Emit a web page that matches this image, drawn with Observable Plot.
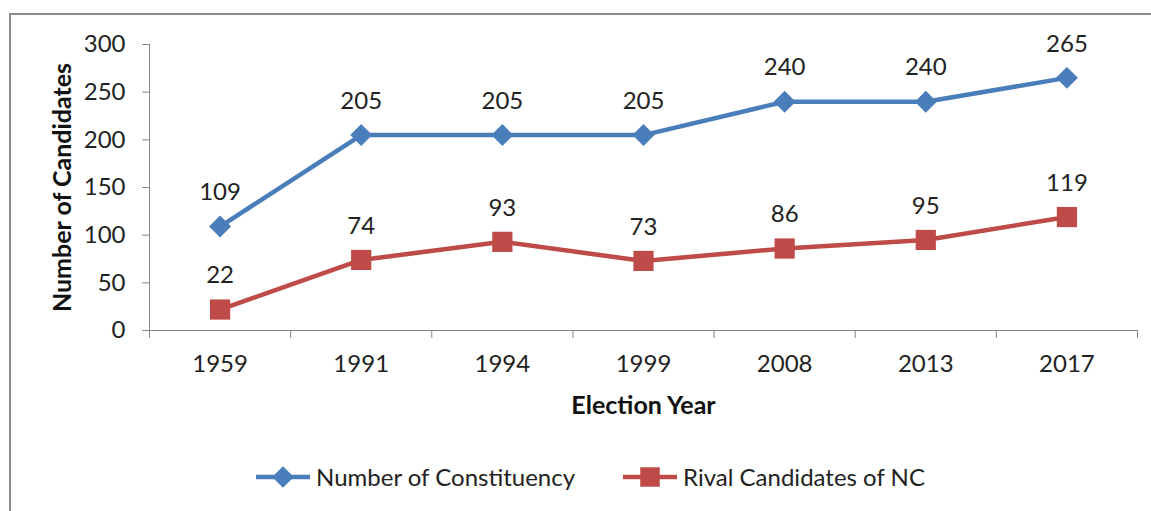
<!DOCTYPE html>
<html>
<head>
<meta charset="utf-8">
<script src="https://cdn.jsdelivr.net/npm/d3@7"></script>
<script src="https://cdn.jsdelivr.net/npm/@observablehq/plot@0.6"></script>
<style>
  html, body { margin: 0; padding: 0; background: #fff; }
  #wrap { position: relative; width: 1151px; height: 511px; overflow: hidden; font-family: Lato, "Open Sans", sans-serif; }
  #frame { position: absolute; left: 9px; top: 13px; width: 1200px; height: 600px; border: 2px solid #8c8c8c; box-sizing: border-box; }
  #chart { position: absolute; left: 0; top: 0; }
  #legend { position: absolute; left: 0; top: 462px; width: 1151px; display: flex; justify-content: center; gap: 48px; font-size: 24px; color: #222; padding-left: 30px; box-sizing: border-box; }
  .item { display: flex; align-items: center; gap: 6px; }
</style>
</head>
<body>
<div id="wrap">
  <div id="frame"></div>
  <div id="chart"></div>
  <div id="legend"></div>
</div>
<script>
const years = ["1959", "1991", "1994", "1999", "2008", "2013", "2017"];
const constituency = [109, 205, 205, 205, 240, 240, 265];
const rival = [22, 74, 93, 73, 86, 95, 119];
const yTicks = [0, 50, 100, 150, 200, 250, 300];
const seriesNames = ["Number of Constituency", "Rival Candidates of NC"];
const colors = ["#4a7ebb", "#be4b48"];

const blue = years.map((yr, i) => ({i: i + 0.5, v: constituency[i]}));
const red = years.map((yr, i) => ({i: i + 0.5, v: rival[i]}));

const axisColor = "#868686";

const chart = Plot.plot({
  width: 1151,
  height: 440,
  marginLeft: 149,
  marginRight: 14,
  marginTop: 44,
  marginBottom: 110,
  style: {fontFamily: "Lato, 'Open Sans', sans-serif", fontSize: "24px", color: "#222", background: "transparent", overflow: "visible"},
  x: {type: "linear", domain: [0, years.length]},
  y: {domain: [0, 300]},
  marks: [
    Plot.ruleY([0], {stroke: axisColor, strokeWidth: 1}),
    Plot.ruleX([0], {stroke: axisColor, strokeWidth: 1}),
    Plot.axisY({ticks: yTicks, tickSize: 7, tickPadding: 17, label: null, stroke: axisColor}),
    Plot.axisX({ticks: d3.range(0, years.length + 1), tickSize: 8, tickFormat: () => "", label: null, stroke: axisColor}),
    Plot.axisX({ticks: d3.range(years.length).map(i => i + 0.5), tickSize: 0, tickPadding: 24, tickFormat: d => years[Math.round(d - 0.5)], label: null}),
    Plot.line(blue, {x: "i", y: "v", stroke: colors[0], strokeWidth: 4.5}),
    Plot.dot(blue, {x: "i", y: "v", symbol: "diamond2", r: 9.9, fill: colors[0], stroke: "none"}),
    Plot.text(blue, {x: "i", y: "v", text: "v", dy: -34, fill: "#222"}),
    Plot.line(red, {x: "i", y: "v", stroke: colors[1], strokeWidth: 4.5}),
    Plot.dot(red, {x: "i", y: "v", symbol: "square", r: 11.4, fill: colors[1], stroke: "none"}),
    Plot.text(red, {x: "i", y: "v", text: "v", dy: -34, fill: "#222"}),
    Plot.text(["Election Year"], {frameAnchor: "bottom", dy: 75, fontWeight: "bold", fontSize: 25, lineAnchor: "middle", textAnchor: "middle", fill: "#111"}),
    Plot.text(["Number of Candidates"], {frameAnchor: "left", dx: -87, rotate: -90, fontWeight: "bold", fontSize: 25, lineAnchor: "middle", textAnchor: "middle", fill: "#111"})
  ]
});
document.getElementById("chart").appendChild(chart);

const legend = document.getElementById("legend");
const symbols = ["diamond", "square"];
seriesNames.forEach((name, k) => {
  const item = document.createElement("div");
  item.className = "item";
  const ns = "http://www.w3.org/2000/svg";
  const svg = document.createElementNS(ns, "svg");
  svg.setAttribute("width", 54);
  svg.setAttribute("height", 24);
  const line = document.createElementNS(ns, "line");
  line.setAttribute("x1", 0); line.setAttribute("x2", 54);
  line.setAttribute("y1", 12); line.setAttribute("y2", 12);
  line.setAttribute("stroke", colors[k]); line.setAttribute("stroke-width", 4.5);
  svg.appendChild(line);
  const p = document.createElementNS(ns, "path");
  const sym = symbols[k] === "diamond" ? d3.symbol(d3.symbolDiamond2, 300) : d3.symbol(d3.symbolSquare, 380);
  p.setAttribute("d", sym());
  p.setAttribute("transform", "translate(27,12)");
  p.setAttribute("fill", colors[k]);
  svg.appendChild(p);
  item.appendChild(svg);
  const span = document.createElement("span");
  span.textContent = name;
  item.appendChild(span);
  legend.appendChild(item);
});
</script>
</body>
</html>
